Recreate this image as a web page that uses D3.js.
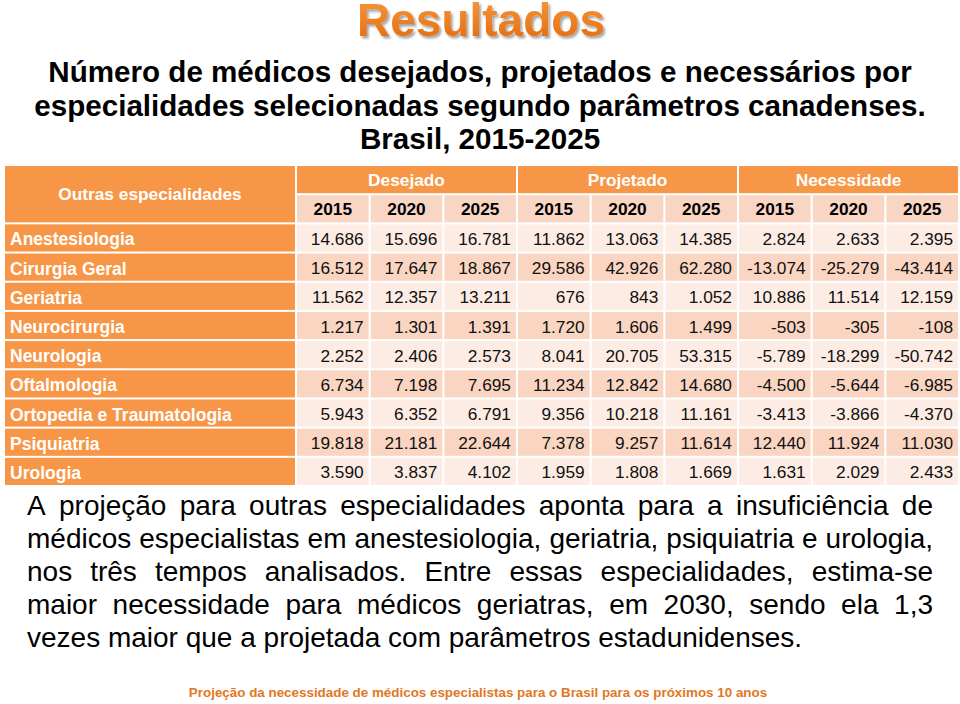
<!DOCTYPE html>
<html>
<head>
<meta charset="utf-8">
<script src="https://cdn.jsdelivr.net/npm/d3@7"></script>
<style>
html,body{margin:0;padding:0;background:#fff;}
svg{display:block;font-family:"Liberation Sans",Arial,sans-serif;}
</style>
</head>
<body>
<svg id="chart" width="960" height="704"></svg>
<script>
// ---------- data ----------
const specialties = ["Anestesiologia","Cirurgia Geral","Geriatria","Neurocirurgia","Neurologia","Oftalmologia","Ortopedia e Traumatologia","Psiquiatria","Urologia"];
const groups = ["Desejado","Projetado","Necessidade"];
const years = ["2015","2020","2025"];
const desejado = [[14686,15696,16781],[16512,17647,18867],[11562,12357,13211],[1217,1301,1391],[2252,2406,2573],[6734,7198,7695],[5943,6352,6791],[19818,21181,22644],[3590,3837,4102]];
const projetado = [[11862,13063,14385],[29586,42926,62280],[676,843,1052],[1720,1606,1499],[8041,20705,53315],[11234,12842,14680],[9356,10218,11161],[7378,9257,11614],[1959,1808,1669]];
const necessidade = [[2824,2633,2395],[-13074,-25279,-43414],[10886,11514,12159],[-503,-305,-108],[-5789,-18299,-50742],[-4500,-5644,-6985],[-3413,-3866,-4370],[12440,11924,11030],[1631,2029,2433]];
const cornerLabel = "Outras especialidades";
const titleText = "Resultados";
const subtitleLines = ["Número de médicos desejados, projetados e necessários por","especialidades selecionadas segundo parâmetros canadenses.","Brasil, 2015-2025"];
const paragraphLines = [
  "A projeção para outras especialidades aponta para a insuficiência de",
  "médicos especialistas em anestesiologia, geriatria, psiquiatria e urologia,",
  "nos três tempos analisados. Entre essas especialidades, estima-se",
  "maior necessidade para médicos geriatras, em 2030, sendo ela 1,3",
  "vezes maior que a projetada com parâmetros estadunidenses."
];
const footerText = "Projeção da necessidade de médicos especialistas para o Brasil para os próximos 10 anos";

// ---------- setup ----------
const svg = d3.select("#chart");
const ORANGE = "#F79646", DARK = "#FAD5C2", LIGHT = "#FDECE4", HEAD2 = "#F9D6C4";
const locale = d3.formatLocale({decimal: ",", thousands: ".", grouping: [3], currency: ["", ""], minus: "-"});
const fmt = locale.format(",d");

const defs = svg.append("defs");
const grad = defs.append("linearGradient").attr("id","tg").attr("x1",0).attr("y1",0).attr("x2",0).attr("y2",1);
grad.append("stop").attr("offset","0%").attr("stop-color","#F79A3E");
grad.append("stop").attr("offset","100%").attr("stop-color","#E2680C");
const flt = defs.append("filter").attr("id","sh").attr("x","-10%").attr("y","-20%").attr("width","130%").attr("height","150%");
flt.append("feDropShadow").attr("dx",2).attr("dy",2.5).attr("stdDeviation",1.2).attr("flood-color","#000").attr("flood-opacity",0.35);

// ---------- title ----------
svg.append("text").attr("x",481).attr("y",36).attr("text-anchor","middle")
  .attr("font-size",46).attr("font-weight","bold").attr("fill","url(#tg)")
  .attr("filter","url(#sh)").text(titleText);

svg.selectAll("text.sub").data(subtitleLines).join("text").attr("class","sub")
  .attr("x",480).attr("y",(d,i)=>82+i*33.5).attr("text-anchor","middle")
  .attr("font-size",29.6).attr("font-weight","bold").attr("fill","#000").text(d=>d);

// ---------- table ----------
const rowIdx = d3.range(specialties.length + 2);
const y = d3.scaleBand().domain(rowIdx).range([166, 485]).paddingInner(2/29);
const colIdx = d3.range(groups.length * years.length);
const x = d3.scaleBand().domain(colIdx).range([297, 958]).paddingInner(2/73.4);
const labelX0 = 5, labelX1 = 295;

const cells = [];
specialties.forEach((s, r) => {
  [desejado, projetado, necessidade].forEach((series, g) => {
    series[r].forEach((v, k) => cells.push({row: r, col: g*3 + k, value: v}));
  });
});

// label column
svg.append("rect").attr("x",labelX0).attr("y",y(0)).attr("width",labelX1-labelX0)
  .attr("height",y(1)+y.bandwidth()-y(0)).attr("fill",ORANGE);
svg.append("text").attr("x",(labelX0+labelX1)/2).attr("y",(y(0)+y(1)+y.bandwidth())/2+6)
  .attr("text-anchor","middle").attr("font-size",17.3).attr("font-weight","bold").attr("fill","#fff").text(cornerLabel);

const lab = svg.selectAll("g.lab").data(specialties).join("g").attr("class","lab");
lab.append("rect").attr("x",labelX0).attr("y",(d,i)=>y(i+2)).attr("width",labelX1-labelX0)
  .attr("height",y.bandwidth()).attr("fill",ORANGE);
lab.append("text").attr("x",labelX0+5).attr("y",(d,i)=>y(i+2)+y.bandwidth()/2+7.5)
  .attr("font-size",17.5).attr("font-weight","bold").attr("fill","#fff").text(d=>d);

// group header
const gh = svg.selectAll("g.gh").data(groups).join("g").attr("class","gh");
gh.append("rect").attr("x",(d,i)=>x(i*3)).attr("y",y(0))
  .attr("width",(d,i)=>x(i*3+2)+x.bandwidth()-x(i*3)).attr("height",y.bandwidth()).attr("fill",ORANGE);
gh.append("text").attr("x",(d,i)=>(x(i*3)+x(i*3+2)+x.bandwidth())/2).attr("y",y(0)+y.bandwidth()/2+6)
  .attr("text-anchor","middle").attr("font-size",17.3).attr("font-weight","bold").attr("fill","#fff").text(d=>d);

// year header
const yh = svg.selectAll("g.yh").data(colIdx).join("g").attr("class","yh");
yh.append("rect").attr("x",d=>x(d)).attr("y",y(1)).attr("width",x.bandwidth()).attr("height",y.bandwidth()).attr("fill",HEAD2);
yh.append("text").attr("x",d=>x(d)+x.bandwidth()/2).attr("y",y(1)+y.bandwidth()/2+6.5)
  .attr("text-anchor","middle").attr("font-size",17.3).attr("font-weight","bold").attr("fill","#000").text(d=>years[d%3]);

// data cells
const dc = svg.selectAll("g.dc").data(cells).join("g").attr("class","dc");
dc.append("rect").attr("x",d=>x(d.col)).attr("y",d=>y(d.row+2)).attr("width",x.bandwidth()).attr("height",y.bandwidth())
  .attr("fill",d=>d.row%2===0?LIGHT:DARK);
dc.append("text").attr("x",d=>x(d.col)+x.bandwidth()-5).attr("y",d=>y(d.row+2)+y.bandwidth()/2+7)
  .attr("text-anchor","end").attr("font-size",17.3).attr("fill","#111").text(d=>fmt(d.value));

// ---------- paragraph (justified) ----------
const pX0 = 27, pX1 = 933;
paragraphLines.forEach((ln, i) => {
  const t = svg.append("text").attr("y", 515 + i*33).attr("font-size",28).attr("fill","#000");
  if (i === paragraphLines.length - 1) { t.attr("x", pX0).text(ln); return; }
  const words = ln.split(" ");
  const ts = words.map(w => t.append("tspan").text(w));
  const widths = ts.map(s => s.node().getComputedTextLength());
  const gap = (pX1 - pX0 - d3.sum(widths)) / (words.length - 1);
  let cx = pX0;
  ts.forEach((s, j) => { s.attr("x", cx); cx += widths[j] + gap; });
});

// ---------- footer ----------
svg.append("text").attr("x",478).attr("y",697).attr("text-anchor","middle")
  .attr("font-size",13.4).attr("font-weight","bold").attr("fill","#E2771F").text(footerText);
</script>
</body>
</html>
